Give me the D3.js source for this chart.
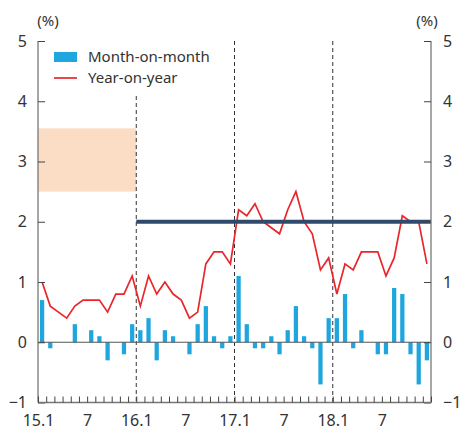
<!DOCTYPE html>
<html>
<head>
<meta charset="utf-8">
<script src="https://cdn.jsdelivr.net/npm/d3@7"></script>
<style>
  body { margin: 0; background: #fff; }
  svg { display: block; font-family: "Noto Sans", "Open Sans", sans-serif; }
</style>
</head>
<body>
<div id="chart"></div>
<script>
// month index 0 = 2015.1 ... 47 = 2018.12
var months = d3.range(48);
var tickLabels = { 0: "15.1", 6: "7", 12: "16.1", 18: "7", 24: "17.1", 30: "7", 36: "18.1", 42: "7" };

var momValues = [
    0.7, -0.1, 0, 0, 0.3, 0, 0.2, 0.1, -0.3, 0, -0.2, 0.3,
    0.2, 0.4, -0.3, 0.2, 0.1, 0, -0.2, 0.3, 0.6, 0.1, -0.1, 0.1,
    1.1, 0.3, -0.1, -0.1, 0.1, -0.2, 0.2, 0.6, 0.1, -0.1, -0.7, 0.4,
    0.4, 0.8, -0.1, 0.2, 0, -0.2, -0.2, 0.9, 0.8, -0.2, -0.7, -0.3
];
var yoyValues = [
    1.0, 0.6, 0.5, 0.4, 0.6, 0.7, 0.7, 0.7, 0.5, 0.8, 0.8, 1.1,
    0.6, 1.1, 0.8, 1.0, 0.8, 0.7, 0.4, 0.5, 1.3, 1.5, 1.5, 1.3,
    2.2, 2.1, 2.3, 2.0, 1.9, 1.8, 2.2, 2.5, 2.0, 1.8, 1.2, 1.4,
    0.8, 1.3, 1.2, 1.5, 1.5, 1.5, 1.1, 1.4, 2.1, 2.0, 2.0, 1.3
];
// target band (until 2016.1) and point target (from 2016.1)
var targetBand = [2.5, 3.55];
var targetPoint = 2;
var dividers = [12, 24, 36];

var width = 459, height = 432;
var plotLeft = 38, plotRight = 431, plotTop = 41, plotBottom = 402.5;

var svg = d3.select("#chart").append("svg")
    .attr("width", width)
    .attr("height", height);

var x = d3.scaleLinear().domain([0, 48]).range([plotLeft, plotRight]);
var xb = d3.scaleBand().domain(months).range([plotLeft, plotRight]).paddingInner(0.48).paddingOuter(0.24);
var y = d3.scaleLinear().domain([-1, 5]).range([plotBottom, plotTop]);

// target band
svg.append("rect")
    .attr("x", x(0))
    .attr("y", y(targetBand[1]))
    .attr("width", x(12) - x(0))
    .attr("height", y(targetBand[0]) - y(targetBand[1]))
    .style("fill", "#fbdcc4");

// dashed year dividers
svg.append("g")
    .selectAll("line")
    .data(dividers)
    .enter()
    .append("line")
    .attr("x1", function (d) { return x(d); })
    .attr("x2", function (d) { return x(d); })
    .attr("y1", function (d) { return d === 12 ? 96 : plotTop; })
    .attr("y2", plotBottom)
    .style("stroke", "#333")
    .style("stroke-width", 1)
    .style("stroke-dasharray", "4,3");

// bars
svg.append("g")
    .selectAll("rect")
    .data(months)
    .enter()
    .append("rect")
    .attr("x", function (d) { return xb(d); })
    .attr("width", xb.bandwidth())
    .attr("y", function (d) { return y(Math.max(0, momValues[d])); })
    .attr("height", function (d) { return Math.abs(y(momValues[d]) - y(0)); })
    .style("fill", "#1fa6de");

// zero line
svg.append("line")
    .attr("x1", plotLeft).attr("x2", plotRight)
    .attr("y1", y(0)).attr("y2", y(0))
    .style("stroke", "#555")
    .style("stroke-width", 1.2);

// year-on-year line
var line = d3.line()
    .x(function (d) { return xb(d) + xb.bandwidth() / 2; })
    .y(function (d) { return y(yoyValues[d]); });

svg.append("path")
    .datum(months)
    .attr("d", line)
    .style("fill", "none")
    .style("stroke", "#e8262b")
    .style("stroke-width", 1.7)
    .style("stroke-linejoin", "miter");

// target line
svg.append("line")
    .attr("x1", x(12)).attr("x2", plotRight)
    .attr("y1", y(targetPoint)).attr("y2", y(targetPoint))
    .style("stroke", "#2f4a6b")
    .style("stroke-width", 4);

// axes
var yTicks = [-1, 0, 1, 2, 3, 4, 5];
var leftAxis = svg.append("g")
    .attr("transform", "translate(" + plotLeft + ",0)")
    .call(d3.axisLeft(y).tickValues(yTicks).tickSize(-7).tickPadding(18).tickFormat(d3.format("d")));
var rightAxis = svg.append("g")
    .attr("transform", "translate(" + plotRight + ",0)")
    .call(d3.axisRight(y).tickValues(yTicks).tickSize(-7).tickPadding(18).tickFormat(d3.format("d")));
var bottomAxis = svg.append("g")
    .attr("transform", "translate(0," + plotBottom + ")")
    .call(d3.axisBottom(x).tickValues(d3.range(49)).tickSize(-6).tickPadding(12)
        .tickFormat(function (d) { return tickLabels[d] || ""; }));

[leftAxis, rightAxis, bottomAxis].forEach(function (g) {
    g.select(".domain").style("stroke", "#777").style("stroke-width", 1.3);
    g.selectAll(".tick line").style("stroke", "#444");
    g.selectAll("text").style("font-family", "'Noto Sans', sans-serif").style("fill", "#333");
});
leftAxis.selectAll("text").style("font-size", "16px").attr("x", -11).style("text-anchor", "end");
rightAxis.selectAll("text").style("font-size", "16px").attr("x", 12).style("text-anchor", "start");
bottomAxis.selectAll("text").style("font-size", "16px");
leftAxis.select(".domain").attr("d", "M0," + plotTop + "V" + plotBottom);
rightAxis.select(".domain").attr("d", "M0," + plotTop + "V" + plotBottom);
bottomAxis.select(".domain").attr("d", "M" + plotLeft + ",0H" + plotRight);

// unit labels
svg.append("text").attr("x", 48).attr("y", 26).style("text-anchor", "middle")
    .style("font-size", "15px").style("fill", "#333").text("(%)");
svg.append("text").attr("x", 427).attr("y", 26).style("text-anchor", "middle")
    .style("font-size", "15px").style("fill", "#333").text("(%)");

// legend
var legend = svg.append("g");
legend.append("rect")
    .attr("x", 54).attr("y", 52).attr("width", 23).attr("height", 10)
    .style("fill", "#1fa6de");
legend.append("text").attr("x", 88).attr("y", 62)
    .style("font-size", "15px").style("fill", "#333").text("Month-on-month");
legend.append("line")
    .attr("x1", 54).attr("x2", 77).attr("y1", 78).attr("y2", 78)
    .style("stroke", "#e8262b").style("stroke-width", 1.7);
legend.append("text").attr("x", 88).attr("y", 83)
    .style("font-size", "15px").style("fill", "#333").text("Year-on-year");
</script>
</body>
</html>
